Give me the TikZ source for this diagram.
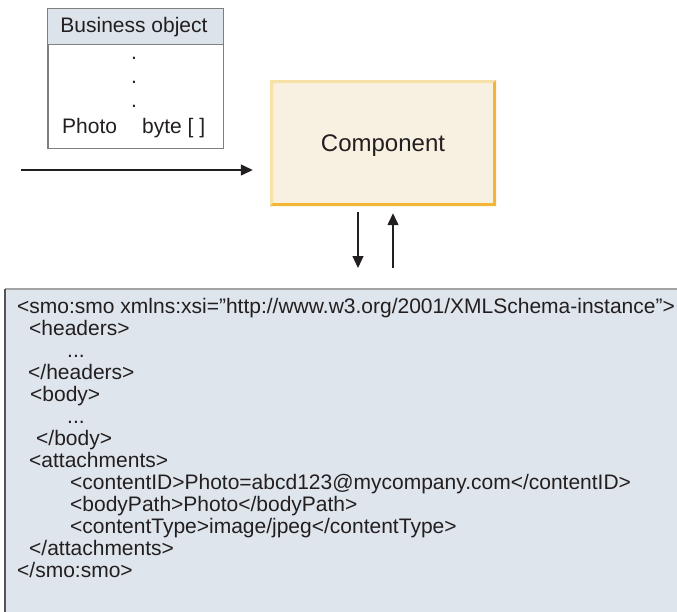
\documentclass[tikz,border=0pt]{standalone}
\usepackage{fontspec}
\setmainfont{Liberation Sans}
\usetikzlibrary{arrows.meta}
\definecolor{hdrfill}{HTML}{DCE3EA}
\definecolor{xmlfill}{HTML}{DFE5EC}
\definecolor{bogray}{HTML}{7F7F7F}
\definecolor{compfill}{HTML}{F8F1E1}
\definecolor{complight}{HTML}{F6E2A8}
\definecolor{comporange}{HTML}{F2B634}
\definecolor{ink}{HTML}{231F20}
\definecolor{xmltop}{HTML}{A3A3A3}
\definecolor{xmlleft}{HTML}{555555}
\begin{document}
\begin{tikzpicture}[x=1pt,y=-1pt,
  txt/.style={font=\fontsize{21}{22}\selectfont, text=ink, inner sep=0pt, anchor=base west},
  ctxt/.style={font=\fontsize{21}{22}\selectfont, text=ink, inner sep=0pt, anchor=base},
  arr/.style={draw=ink, line width=1.3pt, -{Triangle[length=12pt,width=11pt]}}]
\useasboundingbox (0,0) rectangle (677,611);
\clip (0,0) rectangle (677,611);

% Business object box
\node[draw=bogray, fill=white, line width=1pt, minimum width=175pt, minimum height=139pt, inner sep=0pt] (bo) at (135.5,78.5) {};
\fill[hdrfill] (bo.north west) rectangle (223,44);
\draw[bogray, line width=1pt] (bo.north west) rectangle (bo.south east);
\draw[bogray, line width=1pt] (bo.west |- 0,44) -- (bo.east |- 0,44);
\node[ctxt] (bot) at (134,32) {Business object};
\node[ctxt] (dot1) at (134,59.5) {.};
\node[ctxt] (dot2) at (134,83) {.};
\node[ctxt] (dot3) at (134,107.5) {.};
\node[txt] (photo) at (62,133) {Photo};
\node[txt] (byte) at (142,133) {byte [ ]};

% Component box
\node[fill=compfill, minimum width=226pt, minimum height=126pt, inner sep=0pt] (comp) at (383,143) {};
\fill[complight] (270,80) -- (496,80) -- (493,83) -- (273,83) -- (273,203) -- (270,206) -- cycle;
\fill[comporange] (496,80) -- (496,206) -- (270,206) -- (273,203) -- (493,203) -- (493,83) -- cycle;
\node[font=\fontsize{24}{26}\selectfont, text=ink, inner sep=0pt, anchor=base] (comptext) at (383,151) {Component};

% XML box
\node[fill=xmlfill, minimum width=700pt, minimum height=340pt, inner sep=0pt, anchor=north west] (xml) at (5,289) {};
\draw[xmltop, line width=1.5pt] (xml.north west) -- (xml.north east);
\draw[xmlleft, line width=2pt] (xml.north west) -- (xml.south west);

\node[txt] (l1) at (17,313) {<smo:smo xmlns:xsi="http://www.w3.org/2001/XMLSchema-instance">};
\node[txt] (l2) at (29,335) {<headers>};
\node[txt] (l3) at (67,357) {...};
\node[txt] (l4) at (28,379) {</headers>};
\node[txt] (l5) at (30,401) {<body>};
\node[txt] (l6) at (67,423) {...};
\node[txt] (l7) at (36,445) {</body>};
\node[txt] (l8) at (29,467) {<attachments>};
\node[txt] (l9) at (70,489) {<contentID>Photo=abcd123@mycompany.com</contentID>};
\node[txt] (l10) at (70,511) {<bodyPath>Photo</bodyPath>};
\node[txt] (l11) at (70,533) {<contentType>image/jpeg</contentType>};
\node[txt] (l12) at (29,555) {</attachments>};
\node[txt] (l13) at (17,577) {</smo:smo>};

% Connectors
\coordinate (in) at (21,170);
\draw[arr, shorten >=17pt] (in) -- (in -| comp.west);
\coordinate (dn) at (358,0);
\coordinate (up) at (393,0);
\draw[arr, shorten <=6pt, shorten >=21pt] (dn |- comp.south) -- (dn |- xml.north);
\draw[arr, shorten <=21pt, shorten >=7pt] (up |- xml.north) -- (up |- comp.south);
\end{tikzpicture}
\end{document}
